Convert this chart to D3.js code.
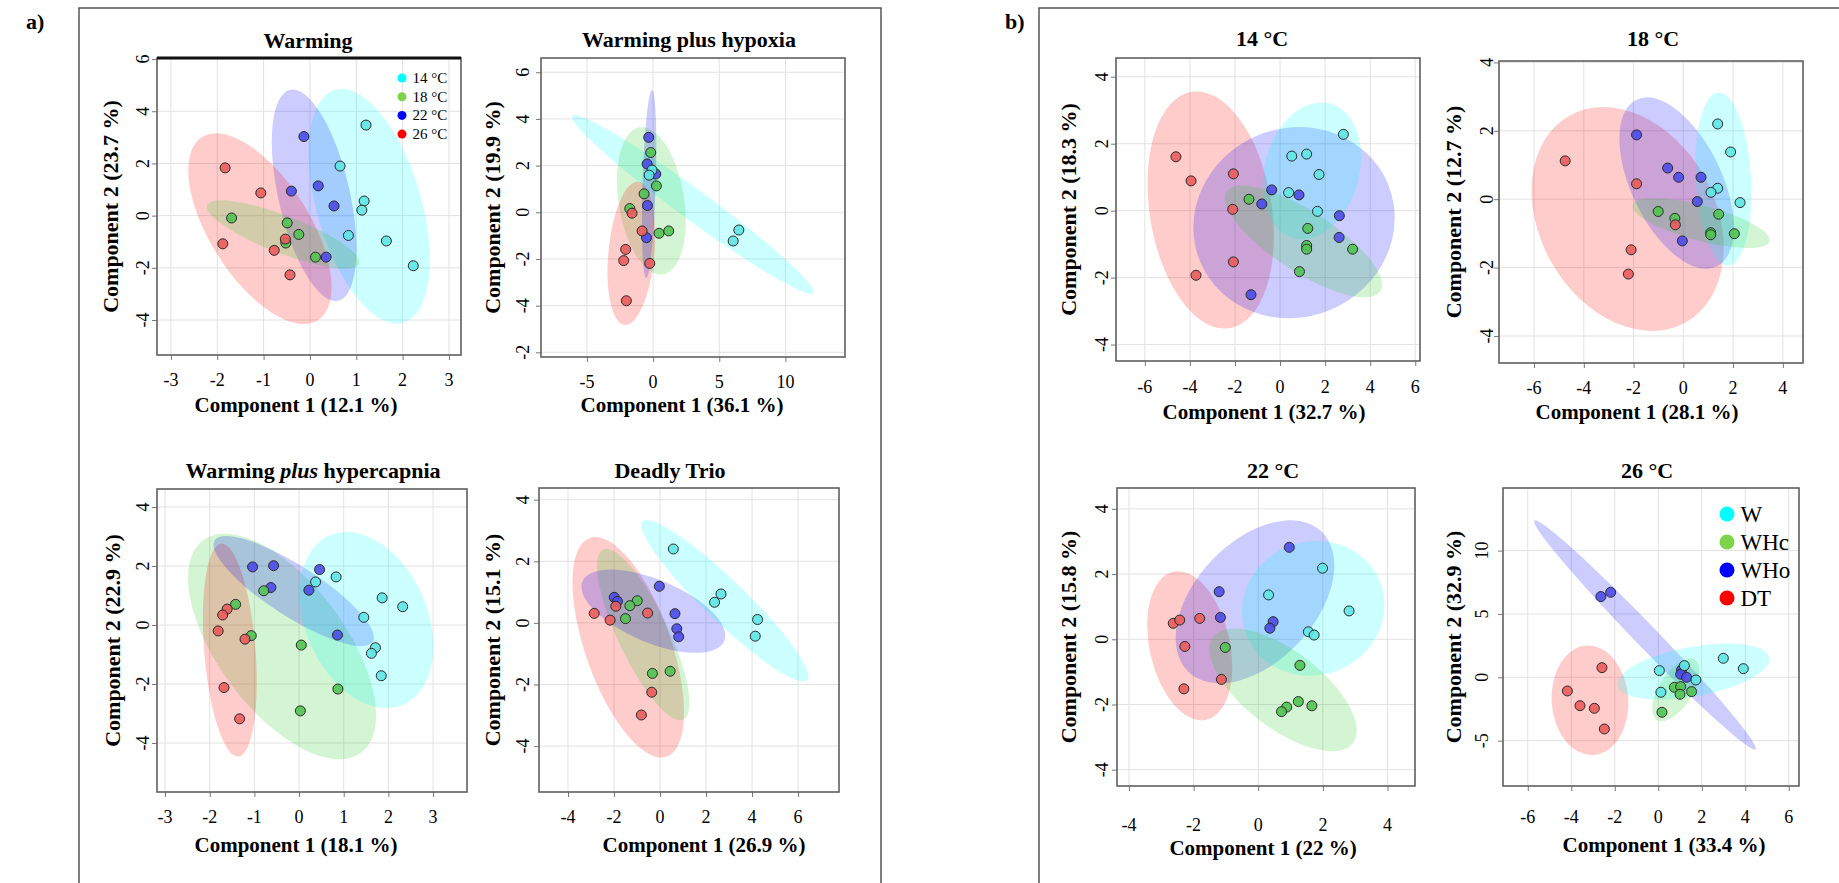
<!DOCTYPE html>
<html>
<head>
<meta charset="utf-8">
<script src="https://cdn.jsdelivr.net/npm/d3@7"></script>
<style>
  body { margin: 0; background: #fff; }
  svg { display: block; }
</style>
</head>
<body>
<script>
// group index: 0 = 14 °C / W, 1 = 18 °C / WHc, 2 = 22 °C / WHo, 3 = 26 °C / DT
const tempGroups = ['14 °C', '18 °C', '22 °C', '26 °C'];
const treatGroups = ['W', 'WHc', 'WHo', 'DT'];

// points: [group, component 1, component 2]
const warmingPoints = [
  [0, 1.21, 3.47], [0, 0.65, 1.90], [0, 1.17, 0.56], [0, 1.12, 0.21], [0, 0.83, -0.76], [0, 1.65, -0.97], [0, 2.23, -1.92],
  [1, -1.69, -0.09], [1, -0.49, -0.28], [1, -0.24, -0.72], [1, -0.52, -1.05], [1, 0.12, -1.59],
  [2, -0.13, 3.03], [2, 0.18, 1.14], [2, -0.40, 0.94], [2, 0.52, 0.37], [2, 0.35, -1.59],
  [3, -1.83, 1.83], [3, -1.06, 0.87], [3, -0.53, -0.90], [3, -1.88, -1.08], [3, -0.77, -1.33], [3, -0.43, -2.27],
];
const hypoxiaPoints = [
  [2, -0.33, 3.21], [2, -0.45, 2.07], [2, 0.20, 1.64], [2, -0.43, 0.29], [2, -0.50, -1.09],
  [1, -0.18, 2.56], [1, 0.25, 1.13], [1, -0.68, 0.79], [1, -1.76, 0.16], [1, 0.45, -0.90], [1, 1.18, -0.80],
  [0, -0.08, 1.81], [0, -0.30, 1.59], [0, 6.48, -0.76], [0, 6.05, -1.23],
  [3, -1.59, -0.04], [3, -0.83, -0.80], [3, -2.07, -1.59], [3, -2.22, -2.07], [3, -0.25, -2.19], [3, -2.02, -3.79],
];
const hypercapniaPoints = [
  [2, -1.04, 1.97], [2, -0.57, 2.01], [2, -0.63, 1.27], [2, 0.46, 1.88], [2, 0.22, 1.18], [2, 0.86, -0.34],
  [0, 0.37, 1.46], [0, 0.83, 1.63], [0, 1.86, 0.92], [0, 2.32, 0.62], [0, 1.45, 0.26], [0, 1.71, -0.77], [0, 1.62, -0.96], [0, 1.84, -1.72],
  [1, -0.79, 1.16], [1, -1.42, 0.70], [1, -1.07, -0.36], [1, 0.05, -0.68], [1, 0.87, -2.17], [1, 0.03, -2.91],
  [3, -1.61, 0.54], [3, -1.71, 0.34], [3, -1.81, -0.20], [3, -1.21, -0.48], [3, -1.68, -2.12], [3, -1.33, -3.18],
];
const trioPoints = [
  [0, 0.58, 2.40], [0, 2.65, 0.94], [0, 2.37, 0.67], [0, 4.24, 0.11], [0, 4.14, -0.43],
  [2, -0.03, 1.19], [2, -1.99, 0.83], [2, -1.85, 0.70], [2, 0.65, 0.30], [2, 0.73, -0.19], [2, 0.81, -0.45],
  [1, -0.99, 0.72], [1, -1.31, 0.56], [1, -1.50, 0.14], [1, -0.33, -1.64], [1, 0.44, -1.57],
  [3, -1.92, 0.54], [3, -2.86, 0.31], [3, -2.17, 0.09], [3, -0.54, 0.32], [3, -0.36, -2.25], [3, -0.81, -2.99],
];
const t14Points = [
  [0, 2.81, 2.28], [0, 0.52, 1.63], [0, 1.18, 1.69], [0, 1.73, 1.08], [0, 0.38, 0.54], [0, 1.66, -0.02],
  [2, -0.37, 0.62], [2, -0.81, 0.20], [2, 0.84, 0.47], [2, 2.63, -0.15], [2, 2.62, -0.80], [2, -1.29, -2.51],
  [1, -1.38, 0.34], [1, 1.23, -0.53], [1, 1.18, -1.04], [1, 1.18, -1.15], [1, 3.22, -1.15], [1, 0.86, -1.82],
  [3, -4.62, 1.61], [3, -3.95, 0.89], [3, -2.07, 1.10], [3, -2.10, 0.04], [3, -2.07, -1.53], [3, -3.73, -1.93],
];
const t18Points = [
  [0, 1.38, 2.20], [0, 1.90, 1.38], [0, 1.38, 0.32], [0, 1.11, 0.20], [0, 2.28, -0.10],
  [2, -1.88, 1.88], [2, -0.63, 0.91], [2, -0.19, 0.64], [2, 0.71, 0.64], [2, 0.56, -0.07], [2, -0.04, -1.22],
  [1, -1.01, -0.36], [1, -0.34, -0.56], [1, 1.10, -0.98], [1, 1.10, -1.04], [1, 1.42, -0.44], [1, 2.05, -1.01],
  [3, -4.75, 1.12], [3, -1.88, 0.45], [3, -0.32, -0.75], [3, -2.10, -1.48], [3, -2.21, -2.19],
];
const t22Points = [
  [2, 0.96, 2.82], [2, -1.21, 1.46], [2, -1.17, 0.67], [2, 0.46, 0.54], [2, 0.36, 0.34],
  [0, 1.99, 2.18], [0, 0.32, 1.36], [0, 2.81, 0.87], [0, 1.55, 0.23], [0, 1.73, 0.13],
  [3, -2.63, 0.49], [3, -2.43, 0.59], [3, -1.81, 0.64], [3, -2.27, -0.22], [3, -1.14, -1.23], [3, -2.30, -1.52],
  [1, -1.02, -0.25], [1, 1.29, -0.80], [1, 1.24, -1.91], [1, 0.88, -2.08], [1, 0.72, -2.22], [1, 1.66, -2.04],
];
const t26Points = [
  [2, -2.64, 6.37], [2, -2.19, 6.71], [2, 1.07, 0.58], [2, 1.03, 0.24], [2, 1.30, 0.0],
  [0, 2.99, 1.50], [0, 3.91, 0.68], [0, 0.05, 0.53], [0, 1.20, 0.92], [0, 1.73, -0.21], [0, 0.12, -1.18],
  [1, 0.74, -0.79], [1, 1.03, -0.74], [1, 1.00, -1.34], [1, 1.53, -1.13], [1, 0.17, -2.76],
  [3, -2.59, 0.76], [3, -4.18, -1.08], [3, -3.60, -2.24], [3, -2.94, -2.45], [3, -2.48, -4.08],
];

// ellipses: [group, centre x, centre y, major-axis tip x, tip y, minor/major ratio]
const warmingEllipses = [
  [0, 1.28, 0.36, 0.54, 4.82, 0.43], [2, 0.09, 0.78, -0.43, 4.82, 0.33],
  [3, -1.08, -0.5, -2.33, 3.01, 0.46], [1, -0.58, -0.72, -2.22, 0.40, 0.23],
];
const hypoxiaEllipses = [
  [0, 3.02, 0.33, -6.10, 4.13, 0.10], [1, -0.13, 0.49, -1.01, 3.64, 0.44],
  [3, -1.64, -1.76, -1.13, 1.31, 0.32], [2, -0.30, 1.21, -0.08, 5.24, 0.07],
];
const hypercapniaEllipses = [
  [1, -0.38, -0.73, -2.15, 2.87, 0.48], [3, -1.55, -0.85, -1.74, 2.76, 0.24],
  [2, -0.12, 1.15, -1.89, 2.87, 0.27], [0, 1.51, 0.17, 0.69, 3.04, 0.66],
];
const trioEllipses = [
  [3, -1.38, -0.79, -3.05, 2.76, 0.37], [1, -0.73, -0.38, -2.47, 2.38, 0.27],
  [2, -0.29, 0.38, -3.37, 1.35, 0.41], [0, 2.82, 0.72, -0.76, 3.30, 0.18],
];
const t14Ellipses = [
  [3, -3.08, 0.02, -3.92, 3.55, 0.51], [2, 0.62, -0.36, 4.79, 0.80, 0.93],
  [0, 1.41, 1.19, 2.22, 3.20, 0.68], [1, 1.04, -0.92, -2.37, 0.57, 0.33],
];
const t18Ellipses = [
  [3, -2.24, -0.58, -4.58, 2.44, 0.74], [2, -0.27, 0.47, -1.88, 2.91, 0.49],
  [0, 1.61, 0.59, 1.41, 3.12, 0.32], [1, 0.71, -0.70, -2.04, -0.17, 0.25],
];
const t22Ellipses = [
  [3, -2.12, -0.20, -2.63, 2.07, 0.53], [2, -0.10, 1.15, 1.95, 3.31, 0.62],
  [0, 1.70, 0.95, 3.79, 1.70, 0.93], [1, 0.77, -1.55, -1.39, 0.08, 0.44],
];
const t26Ellipses = [
  [3, -3.14, -1.82, -3.30, 2.50, 0.70], [2, -0.61, 3.34, -5.70, 12.37, 0.07],
  [0, 1.61, 0.45, 5.10, 1.55, 0.32], [1, 0.81, -1.0, 1.69, 1.37, 0.47],
];

const ellipseColors = ['#00ffff', '#22cc22', '#0000ff', '#ff0000'];
const pointColors = ['#5fe6e6', '#52c252', '#4b4be8', '#ea5c5c'];
const legendColors = ['#00ffff', '#7dd44a', '#0000ff', '#ff0000'];

const panels = [
  {
    title: 'Warming', xLabel: 'Component 1 (12.1 %)', yLabel: 'Component 2 (23.7 %)',
    points: warmingPoints, ellipses: warmingEllipses,
    xDomain: [-3.30, 3.26], yDomain: [-5.34, 6.04],
    xTicks: [-3, -2, -1, 0, 1, 2, 3], yTicks: [6, 4, 2, 0, -2, -4],
    box: { l: 157, r: 461, t: 58, b: 355 }, titleAt: [308, 40], xLabelAt: [296, 405], yLabelX: 110, yTickX: 143, xTickY: 380,
    legend: { items: tempGroups, x: 402, y: 78, dy: 18.7, r: 4.5, size: 15 }, thickTop: true,
  },
  {
    title: 'Warming plus hypoxia', xLabel: 'Component 1 (36.1 %)', yLabel: 'Component 2 (19.9 %)',
    points: hypoxiaPoints, ellipses: hypoxiaEllipses,
    xDomain: [-8.47, 14.5], yDomain: [-6.2, 6.61],
    xTicks: [-5, 0, 5, 10], yTicks: [6, 4, 2, 0, -2, -4, -6], yTickText: ['6', '4', '2', '0', '-2', '-4', '-2'],
    box: { l: 541, r: 845, t: 58, b: 357 }, titleAt: [689, 39], xLabelAt: [682, 405], yLabelX: 492, yTickX: 523, xTickY: 382,
  },
  {
    title: ['Warming ', 'plus', ' hypercapnia'], xLabel: 'Component 1 (18.1 %)', yLabel: 'Component 2 (22.9 %)',
    points: hypercapniaPoints, ellipses: hypercapniaEllipses,
    xDomain: [-3.18, 3.76], yDomain: [-5.66, 4.61],
    xTicks: [-3, -2, -1, 0, 1, 2, 3], yTicks: [4, 2, 0, -2, -4],
    box: { l: 157, r: 467, t: 489, b: 792 }, titleAt: [313, 470], xLabelAt: [296, 845], yLabelX: 112, yTickX: 143, xTickY: 817,
  },
  {
    title: 'Deadly Trio', xLabel: 'Component 1 (26.9 %)', yLabel: 'Component 2 (15.1 %)',
    points: trioPoints, ellipses: trioEllipses,
    xDomain: [-5.26, 7.78], yDomain: [-5.49, 4.38],
    xTicks: [-4, -2, 0, 2, 4, 6], yTicks: [4, 2, 0, -2, -4],
    box: { l: 539, r: 839, t: 488, b: 792 }, titleAt: [670, 470], xLabelAt: [704, 845], yLabelX: 492, yTickX: 523, xTickY: 817,
  },
  {
    title: '14 °C', xLabel: 'Component 1 (32.7 %)', yLabel: 'Component 2 (18.3 %)',
    points: t14Points, ellipses: t14Ellipses,
    xDomain: [-7.28, 6.21], yDomain: [-4.49, 4.56],
    xTicks: [-6, -4, -2, 0, 2, 4, 6], yTicks: [4, 2, 0, -2, -4],
    box: { l: 1116, r: 1420, t: 58, b: 361 }, titleAt: [1262, 38], xLabelAt: [1264, 412], yLabelX: 1068, yTickX: 1102, xTickY: 387,
  },
  {
    title: '18 °C', xLabel: 'Component 1 (28.1 %)', yLabel: 'Component 2 (12.7 %)',
    points: t18Points, ellipses: t18Ellipses,
    xDomain: [-7.41, 4.81], yDomain: [-4.79, 4.04],
    xTicks: [-6, -4, -2, 0, 2, 4], yTicks: [4, 2, 0, -2, -4],
    box: { l: 1499, r: 1803, t: 61, b: 363 }, titleAt: [1653, 38], xLabelAt: [1637, 412], yLabelX: 1453, yTickX: 1487, xTickY: 388,
  },
  {
    title: '22 °C', xLabel: 'Component 1 (22 %)', yLabel: 'Component 2 (15.8 %)',
    points: t22Points, ellipses: t22Ellipses,
    xDomain: [-4.37, 4.85], yDomain: [-4.50, 4.64],
    xTicks: [-4, -2, 0, 2, 4], yTicks: [4, 2, 0, -2, -4],
    box: { l: 1117, r: 1415, t: 488, b: 786 }, titleAt: [1273, 470], xLabelAt: [1263, 848], yLabelX: 1068, yTickX: 1102, xTickY: 825,
  },
  {
    title: '26 °C', xLabel: 'Component 1 (33.4 %)', yLabel: 'Component 2 (32.9 %)',
    points: t26Points, ellipses: t26Ellipses,
    xDomain: [-7.14, 6.47], yDomain: [-8.58, 14.94],
    xTicks: [-6, -4, -2, 0, 2, 4, 6], yTicks: [10, 5, 0, -5],
    box: { l: 1503, r: 1799, t: 488, b: 786 }, titleAt: [1647, 470], xLabelAt: [1664, 845], yLabelX: 1453, yTickX: 1482, xTickY: 817,
    legend: { items: treatGroups, x: 1727, y: 514, dy: 28, r: 7.5, size: 23 },
  },
];

const svg = d3.select('body').append('svg')
  .attr('width', 1839)
  .attr('height', 883)
  .attr('font-family', 'Liberation Serif, Times New Roman, serif');

svg.append('rect').attr('width', 1839).attr('height', 883).attr('fill', '#fff');

// outer frames of a) and b)
svg.append('path')
  .attr('d', 'M79,883V8H881V883')
  .attr('fill', 'none').attr('stroke', '#555').attr('stroke-width', 1.5);
svg.append('path')
  .attr('d', 'M1039,883V8H1839')
  .attr('fill', 'none').attr('stroke', '#555').attr('stroke-width', 1.5);

svg.append('text').attr('x', 26).attr('y', 29).attr('font-size', 22).attr('font-weight', 'bold').text('a)');
svg.append('text').attr('x', 1005).attr('y', 29).attr('font-size', 22).attr('font-weight', 'bold').text('b)');

function drawPanel(p, k) {
  const { box } = p;
  const x = d3.scaleLinear().domain(p.xDomain).range([box.l, box.r]);
  const y = d3.scaleLinear().domain(p.yDomain).range([box.b, box.t]);
  const g = svg.append('g');

  g.append('clipPath').attr('id', `clip${k}`)
    .append('rect')
    .attr('x', box.l).attr('y', box.t)
    .attr('width', box.r - box.l).attr('height', box.b - box.t);

  // grid
  g.append('g').selectAll('line').data(p.xTicks).join('line')
    .attr('x1', (d) => x(d)).attr('x2', (d) => x(d))
    .attr('y1', box.t).attr('y2', box.b)
    .attr('stroke', '#e2e2e2').attr('stroke-width', 1);
  g.append('g').selectAll('line').data(p.yTicks).join('line')
    .attr('y1', (d) => y(d)).attr('y2', (d) => y(d))
    .attr('x1', box.l).attr('x2', box.r)
    .attr('stroke', '#e2e2e2').attr('stroke-width', 1);

  const plot = g.append('g').attr('clip-path', `url(#clip${k})`);

  plot.selectAll('ellipse')
    .data(p.ellipses)
    .join('ellipse')
    .each(function (d) {
      const cx = x(d[1]);
      const cy = y(d[2]);
      const tx = x(d[3]);
      const ty = y(d[4]);
      const a = Math.hypot(tx - cx, ty - cy);
      const ang = (Math.atan2(ty - cy, tx - cx) * 180) / Math.PI;
      d3.select(this)
        .attr('rx', a)
        .attr('ry', a * d[5])
        .attr('transform', `translate(${cx},${cy}) rotate(${ang})`);
    })
    .attr('fill', (d) => ellipseColors[d[0]])
    .attr('fill-opacity', 0.2);

  plot.selectAll('circle')
    .data(p.points)
    .join('circle')
    .attr('cx', (d) => x(d[1]))
    .attr('cy', (d) => y(d[2]))
    .attr('r', 5)
    .attr('fill', (d) => pointColors[d[0]])
    .attr('fill-opacity', 0.9)
    .attr('stroke', '#2a2a2a')
    .attr('stroke-width', 1);

  // axes: tick marks from d3, labels placed separately
  g.append('g')
    .attr('transform', `translate(0,${box.b})`)
    .call(d3.axisBottom(x).tickValues(p.xTicks).tickSize(5).tickFormat(''))
    .call((a) => a.select('.domain').remove())
    .selectAll('line').attr('stroke', '#777');
  g.append('g')
    .attr('transform', `translate(${box.l},0)`)
    .call(d3.axisLeft(y).tickValues(p.yTicks).tickSize(5).tickFormat(''))
    .call((a) => a.select('.domain').remove())
    .selectAll('line').attr('stroke', '#777');

  g.append('rect')
    .attr('x', box.l).attr('y', box.t)
    .attr('width', box.r - box.l).attr('height', box.b - box.t)
    .attr('fill', 'none').attr('stroke', '#606060').attr('stroke-width', 1.6);
  if (p.thickTop) {
    g.append('line')
      .attr('x1', box.l).attr('x2', box.r).attr('y1', box.t).attr('y2', box.t)
      .attr('stroke', '#111').attr('stroke-width', 3);
  }

  g.append('g').selectAll('text')
    .data(p.xTicks)
    .join('text')
    .attr('x', (d) => x(d))
    .attr('y', p.xTickY)
    .attr('text-anchor', 'middle')
    .attr('dominant-baseline', 'central')
    .attr('font-size', 18)
    .text((d) => d);

  g.append('g').selectAll('text')
    .data(p.yTicks)
    .join('text')
    .attr('transform', (d) => `translate(${p.yTickX},${y(d)}) rotate(-90)`)
    .attr('text-anchor', 'middle')
    .attr('dominant-baseline', 'central')
    .attr('font-size', 18)
    .text((d, i) => (p.yTickText ? p.yTickText[i] : d));

  const title = g.append('text')
    .attr('x', p.titleAt[0]).attr('y', p.titleAt[1])
    .attr('text-anchor', 'middle')
    .attr('dominant-baseline', 'central')
    .attr('font-size', 22)
    .attr('font-weight', 'bold');
  if (Array.isArray(p.title)) {
    title.selectAll('tspan').data(p.title).join('tspan')
      .attr('font-style', (d, i) => (i === 1 ? 'italic' : null))
      .text((d) => d);
  } else {
    title.text(p.title);
  }

  g.append('text')
    .attr('x', p.xLabelAt[0]).attr('y', p.xLabelAt[1])
    .attr('text-anchor', 'middle')
    .attr('dominant-baseline', 'central')
    .attr('font-size', 21)
    .attr('font-weight', 'bold')
    .text(p.xLabel);

  g.append('text')
    .attr('transform', `translate(${p.yLabelX},${(box.t + box.b) / 2}) rotate(-90)`)
    .attr('text-anchor', 'middle')
    .attr('dominant-baseline', 'central')
    .attr('font-size', 22)
    .attr('font-weight', 'bold')
    .text(p.yLabel);

  if (p.legend) {
    const L = p.legend;
    const item = g.append('g').selectAll('g')
      .data(L.items)
      .join('g')
      .attr('transform', (d, i) => `translate(${L.x},${L.y + i * L.dy})`);
    item.append('circle').attr('r', L.r).attr('fill', (d, i) => legendColors[i]);
    item.append('text')
      .attr('x', L.r + 6)
      .attr('dominant-baseline', 'central')
      .attr('font-size', L.size)
      .text((d) => d);
  }
}

panels.forEach(drawPanel);
</script>
</body>
</html>
